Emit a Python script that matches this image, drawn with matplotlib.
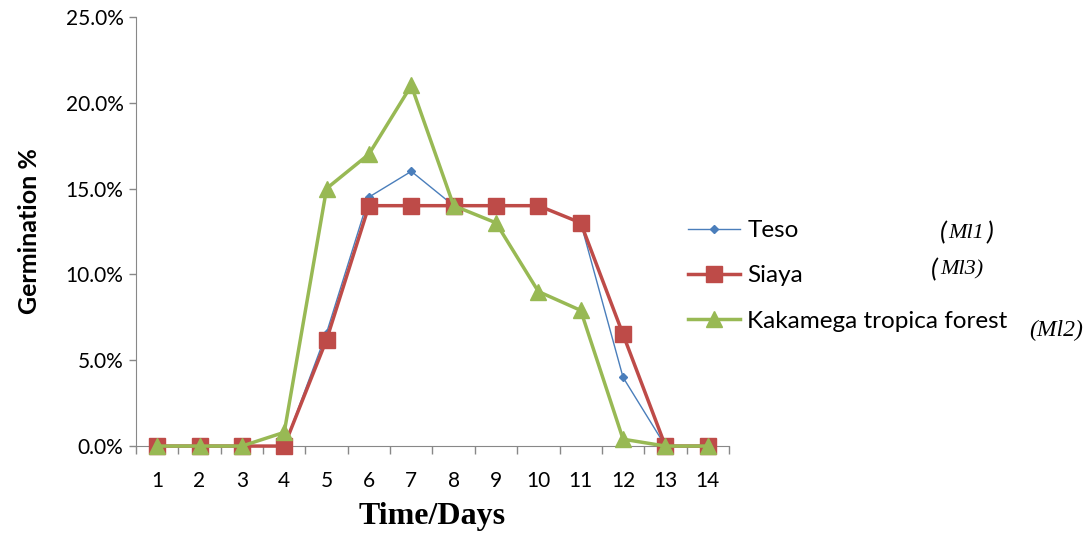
import numpy as np
import matplotlib.pyplot as plt
from matplotlib.ticker import FixedLocator, PercentFormatter

# germination per day, percent
days = list(range(1, 15))
teso = [0, 0, 0, 0, 6.6, 14.5, 16.0, 14.0, 14.0, 14.0, 13.0, 4.0, 0, 0]
siaya = [0, 0, 0, 0, 6.2, 14.0, 14.0, 14.0, 14.0, 14.0, 13.0, 6.5, 0, 0]
kakamega = [0, 0, 0, 0.8, 15.0, 17.0, 21.0, 14.0, 13.0, 9.0, 7.9, 0.4, 0, 0]
y_ticks = [0, 5, 10, 15, 20, 25]

plt.rcParams['font.family'] = ['Lato', 'DejaVu Sans']

fig = plt.figure(figsize=(10.88, 5.42), dpi=100)
ax = fig.add_axes([0.125, 0.177, 0.545, 0.792])

l1, = ax.plot(days, teso, color='#4A7EBB', lw=1, marker='D', ms=4.5,
              label='Teso', zorder=3)
l2, = ax.plot(days, siaya, color='#BE4B48', lw=2.5, marker='s', ms=11,
              label='Siaya', zorder=4)
l3, = ax.plot(days, kakamega, color='#98B954', lw=2.5, marker='^', ms=12,
              label='Kakamega tropica forest', zorder=5)
for ln in (l1, l2, l3):
    ln.set_clip_on(False)

ax.set_xlim(0.5, 14.5)
ax.set_ylim(0, 25)
ax.set_yticks(y_ticks)
ax.yaxis.set_major_formatter(PercentFormatter(decimals=1))
ax.set_xticks(np.arange(0.5, 15, 1))
ax.set_xticklabels([])
ax.xaxis.set_minor_locator(FixedLocator(days))
ax.set_xticklabels([str(d) for d in days], minor=True)
ax.tick_params(axis='x', which='minor', length=0, labelsize=15, pad=18)
ax.tick_params(axis='x', which='major', length=6, width=1, color='#888888')
ax.tick_params(axis='y', length=5, width=1, color='#888888', labelsize=15,
               pad=4)

for side in ('top', 'right'):
    ax.spines[side].set_visible(False)
for side in ('left', 'bottom'):
    ax.spines[side].set_color('#888888')

ax.set_xlabel('Time/Days', family='Liberation Serif', fontweight='bold',
              fontsize=23, labelpad=8)
ax.set_ylabel('Germination %', fontweight='bold', fontsize=18, labelpad=18)

fig.legend(handles=[l1, l2, l3], loc='upper left',
           bbox_to_anchor=(0.632, 0.594), frameon=False, fontsize=17.5,
           handlelength=2.15, labelspacing=1.0, handletextpad=0.3,
           borderpad=0, borderaxespad=0)

fig.text(0.864, 0.570, '(', fontsize=19, fontstyle='italic', va='center')
fig.text(0.872, 0.570, 'Ml1', family='Liberation Serif', fontsize=16,
         fontstyle='italic', va='center')
fig.text(0.907, 0.570, ')', fontsize=19, fontstyle='italic', va='center')
fig.text(0.856, 0.502, '(', fontsize=19, fontstyle='italic', va='center')
fig.text(0.864, 0.502, 'Ml3)', family='Liberation Serif', fontsize=16,
         fontstyle='italic', va='center')
fig.text(0.946, 0.391, '(Ml2)', family='Liberation Serif', fontsize=17,
         fontstyle='italic', va='center')

fig.savefig('out.png', dpi=100)
